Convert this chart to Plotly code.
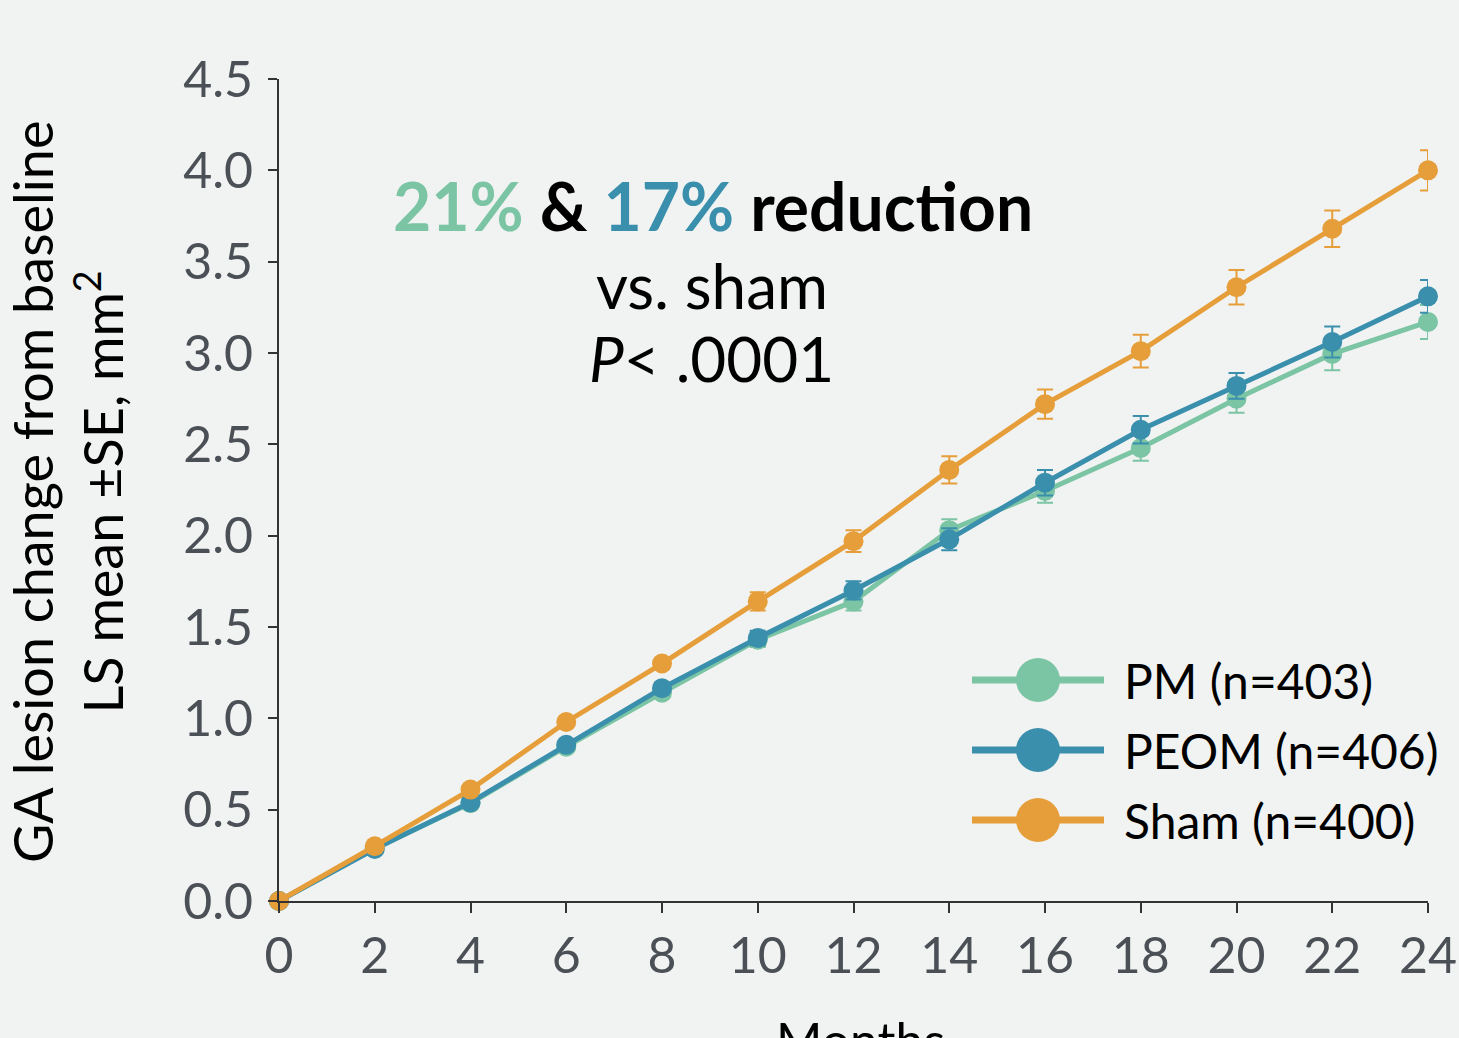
import plotly.graph_objects as go

months = [0, 2, 4, 6, 8, 10, 12, 14, 16, 18, 20, 22, 24]

pm_mean = [0.0, 0.29, 0.535, 0.845, 1.14, 1.43, 1.64, 2.03, 2.245, 2.48, 2.75, 2.995, 3.17]
pm_se = [0.0, 0.01, 0.015, 0.02, 0.03, 0.04, 0.05, 0.06, 0.065, 0.07, 0.077, 0.09, 0.093]

peom_mean = [0.0, 0.285, 0.54, 0.855, 1.165, 1.44, 1.70, 1.98, 2.29, 2.58, 2.82, 3.06, 3.31]
peom_se = [0.0, 0.01, 0.015, 0.02, 0.03, 0.04, 0.05, 0.06, 0.07, 0.075, 0.07, 0.085, 0.09]

sham_mean = [0.0, 0.30, 0.61, 0.98, 1.30, 1.64, 1.97, 2.36, 2.72, 3.01, 3.36, 3.68, 4.00]
sham_se = [0.0, 0.01, 0.015, 0.02, 0.03, 0.05, 0.06, 0.075, 0.08, 0.09, 0.095, 0.10, 0.11]

series_names = ["PM (n=403)", "PEOM (n=406)", "Sham (n=400)"]
colors = ["#7bc4a4", "#3a8fad", "#e59e3a"]

x_ticks = [0, 2, 4, 6, 8, 10, 12, 14, 16, 18, 20, 22, 24]
y_ticks = [0.0, 0.5, 1.0, 1.5, 2.0, 2.5, 3.0, 3.5, 4.0, 4.5]

FONT = "Lato"
TICK_COLOR = "#4b5057"
BG = "#f1f3f2"

W, H = 1459, 1038
L, R, T, B = 279, 31, 79, 137
PW, PH = W - L - R, H - T - B


def px(x):
    return (x - L) / PW


def py(y):
    return (H - B - y) / PH


fig = go.Figure()
for name, mean, se, col in zip(series_names, [pm_mean, peom_mean, sham_mean],
                               [pm_se, peom_se, sham_se], colors):
    fig.add_trace(go.Scatter(
        x=months, y=mean, name=name, mode="lines+markers",
        line=dict(color=col, width=5),
        marker=dict(color=col, size=20),
        error_y=dict(type="data", array=se, visible=True, color=col, thickness=2, width=8),
        cliponaxis=False, showlegend=False,
    ))

fig.update_layout(
    width=W, height=H,
    margin=dict(l=L, r=R, t=T, b=B, autoexpand=False),
    paper_bgcolor=BG, plot_bgcolor=BG,
    font=dict(family=FONT),
    showlegend=False,
)

fig.update_xaxes(
    range=[0, 24], tickvals=x_ticks, ticktext=[str(v) for v in x_ticks],
    showgrid=False, zeroline=False, showline=True, linecolor="#333333", linewidth=2,
    ticks="outside", ticklen=10, tickwidth=2, tickcolor="#333333", automargin=False,
    tickfont=dict(family=FONT, size=50, color=TICK_COLOR), ticklabelstandoff=0,
)
fig.update_yaxes(
    range=[0, 4.5], tickvals=y_ticks, ticktext=["%.1f" % v for v in y_ticks],
    showgrid=False, zeroline=False, showline=True, linecolor="#333333", linewidth=2,
    ticks="outside", ticklen=9, tickwidth=2, tickcolor="#333333", automargin=False,
    tickfont=dict(family=FONT, size=50, color=TICK_COLOR), ticklabelstandoff=5,
)

annotations = [
    dict(text="<b><span style='color:#7bc4a4'>21%</span> &amp; "
              "<span style='color:#3a8fad'>17%</span> reduction</b>",
         x=px(713), y=py(205), font=dict(size=66, color="#000000")),
    dict(text="vs. sham", x=px(712), y=py(285), font=dict(size=62, color="#000000")),
    dict(text="<i>P</i>< .0001", x=px(711), y=py(358), font=dict(size=62, color="#000000")),
    dict(text="GA lesion change from baseline<br>LS mean ±SE, mm<sup>2</sup>",
         x=px(67), y=py(492), textangle=-90, font=dict(size=54, color="#000000")),
    dict(text="Months", x=px(860), y=py(1008), yanchor="top",
         font=dict(size=50, color="#000000")),
]
leg_rows = [680, 750, 820]
shapes = []
for name, col, yy in zip(series_names, colors, leg_rows):
    annotations.append(dict(text=name, x=px(1122), y=py(yy), xanchor="left",
                            font=dict(size=48, color="#000000")))
    shapes.append(dict(type="line", xref="paper", yref="paper",
                       x0=px(972), x1=px(1104), y0=py(yy), y1=py(yy),
                       line=dict(color=col, width=7)))
    shapes.append(dict(type="circle", xref="paper", yref="paper",
                       x0=px(1038 - 22), x1=px(1038 + 22), y0=py(yy + 22), y1=py(yy - 22),
                       fillcolor=col, line=dict(width=0)))

for a in annotations:
    a.setdefault("xref", "paper")
    a.setdefault("yref", "paper")
    a.setdefault("showarrow", False)
    a.setdefault("xanchor", "center")
    a.setdefault("yanchor", "middle")

fig.update_layout(annotations=annotations, shapes=shapes)

fig.write_html("out.html", config={"displayModeBar": False},
               post_script="document.body.style.margin='0';document.body.style.overflow='hidden';")
